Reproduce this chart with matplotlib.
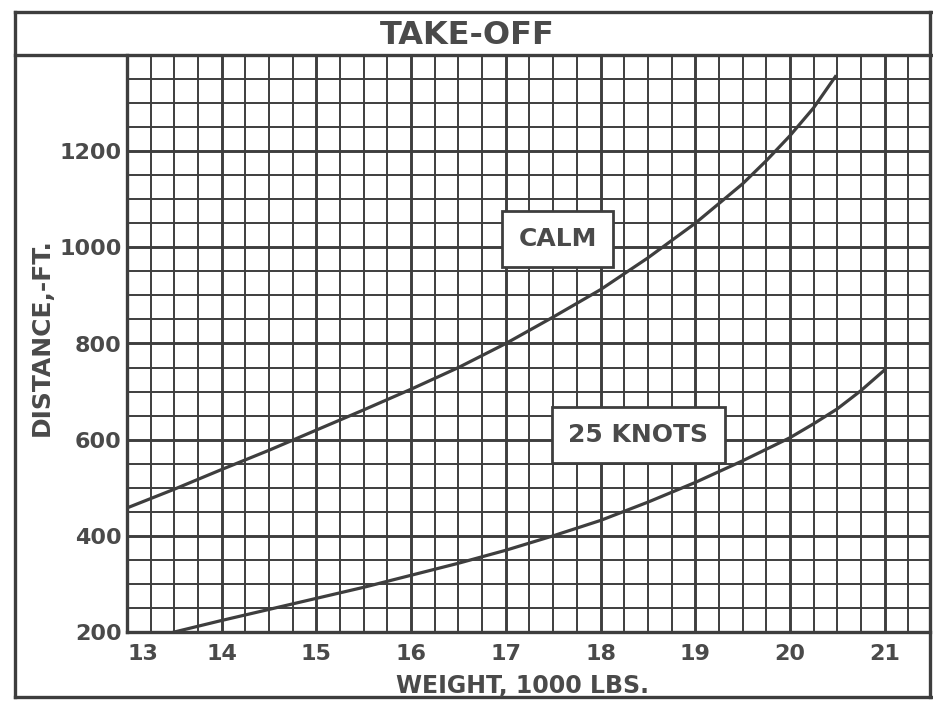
import matplotlib
matplotlib.use("Agg")
import matplotlib.pyplot as plt
from matplotlib.lines import Line2D
from matplotlib.ticker import MultipleLocator

# weight (1000 lbs) vs take-off distance (ft)
calm_w = [13, 13.5, 14, 14.5, 15, 15.5, 16, 16.5, 17, 17.5, 18, 18.5, 19, 19.5, 19.75, 20, 20.25, 20.48]
calm_d = [458, 497, 538, 578, 620, 662, 705, 750, 800, 855, 912, 978, 1050, 1132, 1180, 1232, 1290, 1355]

knots_w = [13.5, 14, 14.5, 15, 15.5, 16, 16.5, 17, 17.5, 18, 18.5, 19, 19.5, 20, 20.25, 20.5, 20.75, 21]
knots_d = [200, 224, 247, 270, 293, 318, 343, 370, 400, 432, 470, 511, 556, 604, 633, 664, 702, 745]

x_ticks = [13, 14, 15, 16, 17, 18, 19, 20, 21]
y_ticks = [200, 400, 600, 800, 1000, 1200, 1400]
y_labels = ['200', '400', '600', '800', '1000', '1200', '']

ink = '#3e3e3e'
text_c = '#4a4a4a'

plt.rcParams['font.family'] = 'DejaVu Sans'

fig = plt.figure(figsize=(9.33, 7.01), dpi=100)
ax = fig.add_axes([127/933, 69/701, 803/933, 577/701])

ax.plot(calm_w, calm_d, color=ink, linewidth=2.3, solid_joinstyle='round', zorder=3)
ax.plot(knots_w, knots_d, color=ink, linewidth=2.3, solid_joinstyle='round', zorder=3)

ax.set_xlim(13, 13 + 803/94.7)
ax.set_ylim(200, 1400)

ax.set_xticks(x_ticks)
ax.set_xticklabels([str(t) for t in x_ticks])
ax.set_yticks(y_ticks)
ax.set_yticklabels(y_labels)
ax.xaxis.set_minor_locator(MultipleLocator(0.25))
ax.yaxis.set_minor_locator(MultipleLocator(50))

ax.grid(which='major', color=ink, linewidth=2.1)
ax.grid(which='minor', color=ink, linewidth=1.4)
ax.set_axisbelow(True)

ax.tick_params(which='both', length=0)
ax.tick_params(axis='x', pad=9, labelsize=16, labelcolor=text_c)
ax.tick_params(axis='y', pad=4, labelsize=16, labelcolor=text_c)
for lab in ax.get_xticklabels() + ax.get_yticklabels():
    lab.set_fontweight('bold')
ax.get_xticklabels()[0].set_ha('left')

for s in ['left', 'bottom']:
    ax.spines[s].set_color(ink)
    ax.spines[s].set_linewidth(2.4)
for s in ['top', 'right']:
    ax.spines[s].set_visible(False)

# curve labels in boxes
box = dict(boxstyle='square,pad=0.65', facecolor='white', edgecolor=ink, linewidth=2.0)
ax.text(17.55, 1017, 'CALM', fontsize=18, fontweight='bold', color=text_c,
        ha='center', va='center', bbox=box, zorder=4)
ax.text(18.40, 610, '25 KNOTS', fontsize=18, fontweight='bold', color=text_c,
        ha='center', va='center', bbox=box, zorder=4)

# outer frame and title box
W, H = 933, 701
def fline(xs, ys, lw=2.4):
    fig.add_artist(Line2D([x / W for x in xs], [1 - y / H for y in ys],
                          color=ink, linewidth=lw, transform=fig.transFigure))

fline([15, 931], [12, 12])
fline([15, 931], [697, 697])
fline([15, 15], [12, 697])
fline([930, 930], [12, 697])
fline([15, 931], [55, 55])

fig.text(467/W, 1 - 35/H, 'TAKE-OFF', fontsize=23, fontweight='bold', color=text_c,
         ha='center', va='center')
fig.text(42/W, 1 - 337/H, 'DISTANCE,-FT.', fontsize=18, fontweight='bold',
         color=text_c, rotation=90, ha='center', va='center')
fig.text(522/W, 1 - 686/H, 'WEIGHT, 1000 LBS.', fontsize=17, fontweight='bold',
         color=text_c, ha='center', va='center')

fig.savefig('out.png', dpi=100)
